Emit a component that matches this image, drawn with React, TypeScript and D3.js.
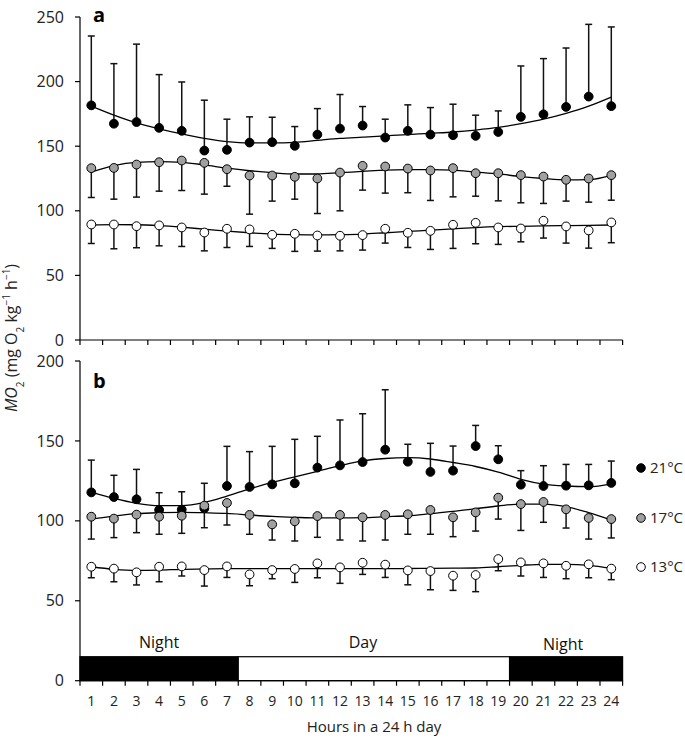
import React from "react";
import * as d3 from "d3";

const hours = d3.range(1, 25);
const xTickValues = d3.range(0, 25);
const yTicksA = [0, 50, 100, 150, 200, 250];
const yTicksB = [0, 50, 100, 150, 200];

// Panel a
const a21Mean = [181.6, 167.4, 168.7, 164.2, 161.9, 146.6, 147.2, 152.8, 153.1, 150.3, 159, 163.6, 166, 156.7, 161.9, 159, 158.5, 158, 161, 172.7, 174.7, 180.4, 188.4, 181];
const a21Upper = [235.3, 213.9, 229, 205.4, 199.7, 185.6, 170.9, 172.7, 172.4, 165.2, 179.1, 190, 180.7, 170.9, 182, 179.9, 182.5, 174, 177.3, 212.1, 217.8, 226, 244.3, 242.3];
const a21Fit = [181, 174, 168, 163.5, 159.5, 156, 153.5, 152.5, 152.5, 153, 154.5, 156, 157, 158, 159, 160, 161, 162.5, 164.5, 167.5, 171, 175.5, 181, 188];

const a17Mean = [133, 133.2, 135.8, 137.6, 138.9, 137.1, 132.2, 127.3, 127.3, 126.3, 125, 129.6, 134.8, 134.3, 132.7, 131.2, 133, 129.1, 129.1, 127.6, 126.5, 124, 125, 127.6];
const a17Lower = [110.3, 109, 110.6, 115.2, 115.7, 112.9, 119, 97.4, 107.5, 109, 97.9, 100, 116, 113.7, 114, 108, 110.8, 111.3, 107.7, 106.2, 105.7, 107.5, 106.7, 108.2];
const a17Fit = [130, 135, 137.5, 138, 137.5, 135.5, 133, 131, 129.5, 128.5, 128.5, 129.5, 130.5, 131.5, 131.8, 131.8, 131.5, 130, 128.5, 126.5, 125, 124, 124.2, 127.5];

const a13Mean = [89.4, 89.4, 88.1, 88.7, 87.1, 83.2, 86.1, 85.6, 81.4, 82.2, 80.9, 80.7, 81.2, 86.1, 83, 84.5, 89.2, 90.7, 87.1, 86.3, 92.3, 87.9, 84.8, 91];
const a13Lower = [74.7, 70.6, 71.4, 72.9, 72.4, 69, 71.6, 72.4, 70.9, 68.6, 68.8, 69, 69.6, 75, 71.6, 70.1, 70.9, 74.5, 74, 76, 78.9, 75, 71.1, 75.3];
const a13Fit = [89, 89.3, 89.2, 88.5, 87.3, 85.8, 84.3, 83, 82, 81.5, 81.3, 81.5, 82, 83, 84, 85, 86, 87, 87.7, 88, 88.3, 88.5, 88.7, 89];

// Panel b
const b21Mean = [117.8, 114.9, 113.5, 106.8, 107, 107.8, 121.8, 121.2, 122.8, 123.5, 133.3, 134.7, 136.8, 144.5, 137, 130.6, 131.4, 146.8, 138.5, 122.6, 121.8, 122, 122.2, 123.7];
const b21Upper = [138, 128.5, 132.2, 117.6, 118.2, 123.5, 146.6, 143.3, 146.6, 151, 152.9, 163.1, 167, 182, 147.9, 148.5, 146.8, 159.7, 147, 131.4, 134.5, 135.3, 135.3, 137.4];
const b21Fit = [118, 114, 111, 109.5, 109.5, 111.5, 115.5, 120, 124, 127.5, 131, 134.5, 137.5, 139, 139.5, 138.7, 136.5, 134, 130.5, 126, 123, 121.8, 121.4, 123];

const b17Mean = [102.6, 101.4, 103.9, 102.6, 103.2, 109.5, 111.2, 103.7, 97.8, 99.7, 103, 103.7, 102.2, 103.7, 104.1, 106.8, 102.2, 105.3, 114.5, 110.5, 111.8, 107.2, 101.8, 101.1];
const b17Lower = [88.6, 89.5, 92.6, 91.6, 92.2, 95.7, 97.4, 91.6, 88, 87.4, 89.7, 88, 87.4, 88, 91.6, 91.6, 90.1, 93.6, 101.1, 94, 99.1, 95.5, 88.6, 89.3];
const b17Fit = [101.1, 103, 104.5, 105.1, 105.3, 105.1, 104.7, 103.7, 102.8, 102.2, 101.8, 101.8, 102, 102.6, 103.2, 104.5, 105.9, 107.6, 109.3, 110.5, 110.5, 108.9, 105.1, 100.5];

const b13Mean = [71.3, 70.1, 67.8, 71.3, 71.5, 69.2, 71.5, 66.5, 69.2, 69.9, 73.4, 70.9, 73.8, 72.6, 69, 68.6, 65.7, 66.1, 76.1, 74, 73.4, 71.9, 72.8, 70.1];
const b13Lower = [64.4, 61.9, 59.9, 61.9, 65.5, 59.2, 64.6, 59.4, 63.8, 61.5, 64.4, 60.9, 66.5, 64.6, 60, 56.9, 56.5, 55.7, 68.8, 65.5, 64.6, 63.8, 64.4, 63.2];
const b13Fit = [71.3, 69.7, 69, 69.2, 69.7, 69.9, 70.1, 70.1, 70.1, 70.1, 70.1, 70.1, 70.1, 70.1, 70.2, 70.3, 70.4, 70.5, 71.3, 72.2, 72.8, 72.8, 72.2, 70.3];

const temps = ["21°C", "17°C", "13°C"];
const fills = ["#000000", "#a0a0a0", "#ffffff"];

// Light periods (hour boundaries)
const periods = [
  { start: 0, end: 7, label: "Night", dark: true },
  { start: 7, end: 19, label: "Day", dark: false },
  { start: 19, end: 24, label: "Night", dark: true },
];
const labelShift = [0, -11, -3];
const barTop = 15;

const FONT = "'Open Sans', 'Liberation Sans', sans-serif";
const W = 685;
const H = 739;

const x = d3.scaleLinear().domain([0, 24]).range([80, 622.6]);
const yA = d3.scaleLinear().domain([0, 250]).range([340, 17]);
const yB = d3.scaleLinear().domain([0, 200]).range([680.7, 361]);

type Series = { mean: number[]; limit: number[]; fit: number[]; up: boolean; fill: string };

const panelA: Series[] = [
  { mean: a21Mean, limit: a21Upper, fit: a21Fit, up: true, fill: fills[0] },
  { mean: a17Mean, limit: a17Lower, fit: a17Fit, up: false, fill: fills[1] },
  { mean: a13Mean, limit: a13Lower, fit: a13Fit, up: false, fill: fills[2] },
];
const panelB: Series[] = [
  { mean: b21Mean, limit: b21Upper, fit: b21Fit, up: true, fill: fills[0] },
  { mean: b17Mean, limit: b17Lower, fit: b17Fit, up: false, fill: fills[1] },
  { mean: b13Mean, limit: b13Lower, fit: b13Fit, up: false, fill: fills[2] },
];

function Panel({ y, series, ticks, label, labelBaseline, showLabels }: { y: d3.ScaleLinear<number, number>; series: Series[]; ticks: number[]; label: string; labelBaseline: number; showLabels: boolean }) {
  const [y0, y1] = y.range();
  const x0 = x.range()[0];
  const x1 = x.range()[1];
  const line = d3
    .line<number>()
    .x((_, i) => x(hours[i] - 0.5))
    .y((d) => y(d))
    .curve(d3.curveMonotoneX);
  return (
    <g>
      {series.map((s, si) => (
        <path key={"f" + si} d={line(s.fit) || ""} fill="none" stroke="#000" strokeWidth={1.3} />
      ))}
      {series.map((s, si) => (
        <g key={"s" + si}>
          {hours.map((h, i) => {
            const cx = x(h - 0.5);
            return (
              <g key={i}>
                <line x1={cx} x2={cx} y1={y(s.mean[i])} y2={y(s.limit[i])} stroke="#111" strokeWidth={1.5} />
                <line x1={cx - 3.5} x2={cx + 3.5} y1={y(s.limit[i])} y2={y(s.limit[i])} stroke="#111" strokeWidth={1.5} />
              </g>
            );
          })}
          {hours.map((h, i) => (
            <circle key={"c" + i} cx={x(h - 0.5)} cy={y(s.mean[i])} r={4.4} fill={s.fill} stroke="#000" strokeWidth={1} />
          ))}
        </g>
      ))}
      <line x1={x0} x2={x0} y1={y0} y2={y1} stroke="#000" strokeWidth={1.2} />
      {ticks.map((t) => (
        <g key={t}>
          <line x1={x0 - 5} x2={x0} y1={y(t)} y2={y(t)} stroke="#000" strokeWidth={1.2} />
          <text x={x0 - 16} y={y(t)} dy="0.35em" textAnchor="end" fontSize={16} fontFamily={FONT} fill="#222">
            {t}
          </text>
        </g>
      ))}
      <line x1={x0} x2={x1} y1={y0} y2={y0} stroke="#000" strokeWidth={1.2} />
      {xTickValues.map((t) => (
        <line key={t} x1={x(t)} x2={x(t)} y1={y0} y2={y0 + 5} stroke="#000" strokeWidth={1.2} />
      ))}
      {showLabels &&
        hours.map((h) => (
          <text key={"xl" + h} x={x(h - 0.5)} y={706} textAnchor="middle" fontSize={14} fontFamily={FONT} fill="#222">
            {h}
          </text>
        ))}
      <text x={x0 + 13} y={labelBaseline} fontSize={20} fontWeight={700} fontFamily={FONT} fill="#000">
        {label}
      </text>
    </g>
  );
}

export default function App() {
  return (
    <svg width={W} height={H} style={{ position: "absolute", left: 0, top: 0, background: "#fff" }}>
      <rect x={0} y={0} width={W} height={H} fill="#fff" />
      <Panel y={yA} series={panelA} ticks={yTicksA} label="a" labelBaseline={21.5} showLabels={false} />
      {periods.map((p, i) => (
        <g key={"p" + i}>
          <rect
            x={x(p.start)}
            y={yB(barTop)}
            width={x(p.end) - x(p.start)}
            height={yB(0) - yB(barTop)}
            fill={p.dark ? "#000" : "#fff"}
            stroke="#000"
            strokeWidth={1.2}
          />
          <text x={x(p.start + (p.end - p.start) / 2) + labelShift[i]} y={yB(barTop) - 9 + (i === 2 ? 2 : 0)} textAnchor="middle" fontSize={16} fontFamily={FONT} fill="#111">
            {p.label}
          </text>
        </g>
      ))}
      <Panel y={yB} series={panelB} ticks={yTicksB} label="b" labelBaseline={388} showLabels={true} />
      {temps.map((t, i) => {
        const legendY = [468, 518, 567][i];
        return (
          <g key={t}>
            <circle cx={641} cy={legendY} r={4.3} fill={fills[i]} stroke="#000" strokeWidth={1} />
            <text x={650} y={legendY} dy="0.36em" fontSize={15} fontFamily={FONT} fill="#222">
              {t}
            </text>
          </g>
        );
      })}
      <text x={374} y={732} textAnchor="middle" fontSize={15} fontFamily={FONT} fill="#222">
        Hours in a 24 h day
      </text>
      <text transform="translate(17,338) rotate(-90)" textAnchor="middle" fontSize={16} fontFamily={FONT} fill="#222">
        <tspan fontStyle="italic">MO</tspan>
        <tspan baselineShift="sub" fontSize={10}>2</tspan>
        <tspan> (mg O</tspan>
        <tspan baselineShift="sub" fontSize={10}>2</tspan>
        <tspan> kg</tspan>
        <tspan baselineShift="super" fontSize={10}>−1</tspan>
        <tspan> h</tspan>
        <tspan baselineShift="super" fontSize={10}>−1</tspan>
        <tspan>)</tspan>
      </text>
    </svg>
  );
}
